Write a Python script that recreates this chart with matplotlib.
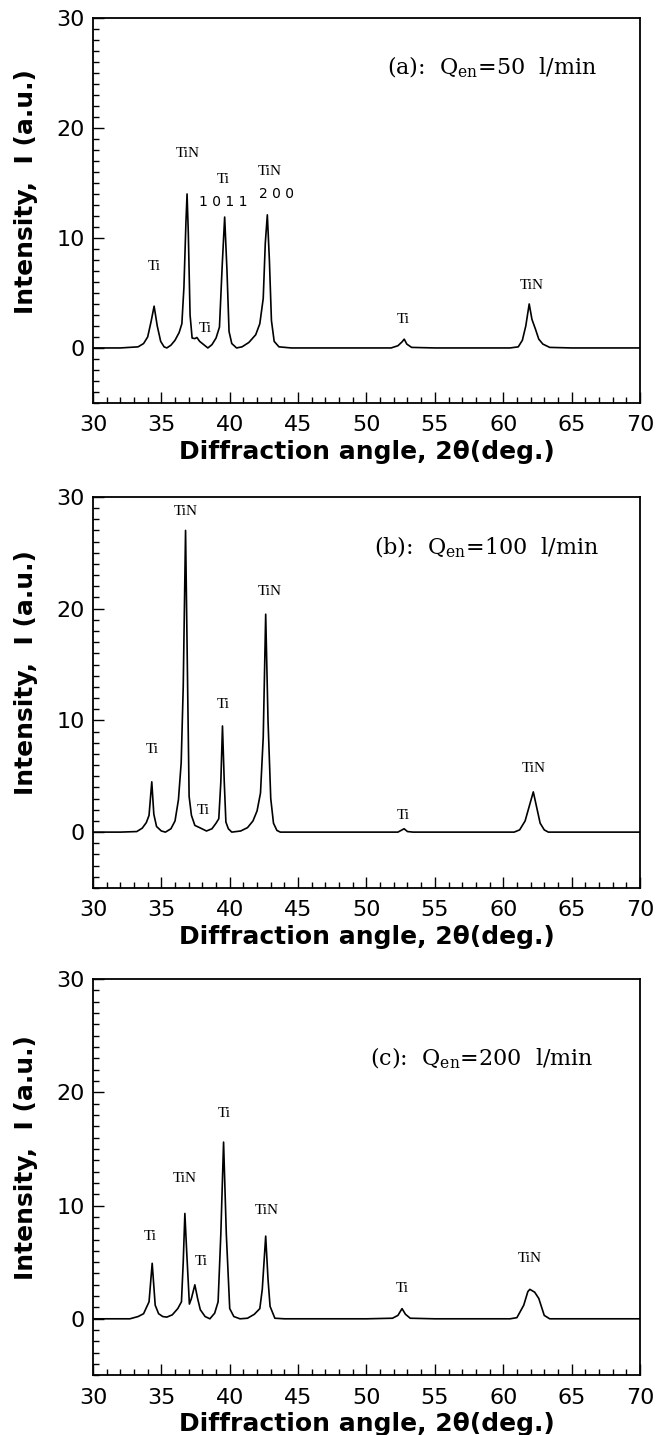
import matplotlib
matplotlib.use("Agg")
import matplotlib.pyplot as plt
from matplotlib.ticker import MultipleLocator

# ---------------- data ----------------
x_a = [30, 32, 33.3, 33.7, 34.0, 34.25, 34.47, 34.7, 34.95, 35.2, 35.4, 35.7, 36.0, 36.3, 36.5,
       36.65, 36.8, 36.88, 36.97, 37.1, 37.25, 37.45, 37.6, 37.8, 38.1, 38.4, 38.7, 39.0, 39.25,
       39.45, 39.63, 39.8, 39.95, 40.15, 40.5, 40.9, 41.4, 41.9, 42.2, 42.45, 42.6, 42.75, 42.9,
       43.05, 43.25, 43.6, 44.5, 46, 48, 50, 51.8, 52.3, 52.6, 52.76, 52.95, 53.3, 55, 58, 60.5,
       61.1, 61.4, 61.65, 61.9, 62.1, 62.36, 62.6, 62.9, 63.4, 65, 70]
y_a = [0, 0, 0.1, 0.4, 1.0, 2.4, 3.8, 2.0, 0.6, 0.1, 0.0, 0.25, 0.7, 1.4, 2.2,
       5.5, 11.5, 14.0, 10.5, 3.0, 0.9, 0.85, 0.95, 0.6, 0.3, 0.0, 0.3, 0.9, 1.9,
       7.5, 11.9, 7.0, 1.5, 0.4, 0.0, 0.1, 0.5, 1.2, 2.2, 4.5, 9.5, 12.1, 8.0,
       2.5, 0.6, 0.1, 0.0, 0, 0, 0, 0, 0.2, 0.55, 0.8, 0.35, 0.05, 0, 0, 0,
       0.1, 0.7, 2.0, 4.0, 2.6, 1.7, 0.8, 0.35, 0.05, 0, 0]

x_b = [30, 32, 33.2, 33.6, 33.9, 34.1, 34.3, 34.45, 34.65, 35.0, 35.3, 35.7, 36.0, 36.25, 36.45,
       36.6, 36.77, 36.9, 37.03, 37.2, 37.45, 37.8, 38.3, 38.7, 39.0, 39.2, 39.35, 39.47, 39.6,
       39.72, 39.9, 40.15, 40.8, 41.3, 41.7, 42.0, 42.25, 42.45, 42.63, 42.8, 43.0, 43.2, 43.45,
       43.7, 46, 50, 52.3, 52.6, 52.75, 53.0, 53.4, 58, 60.8, 61.2, 61.6, 61.9, 62.2, 62.45,
       62.7, 63.0, 63.3, 70]
y_b = [0, 0, 0.05, 0.35, 0.85, 1.5, 4.5, 1.6, 0.5, 0.1, 0.0, 0.3, 1.0, 2.9, 6.2,
       13.0, 27.0, 15.0, 3.2, 1.5, 0.6, 0.4, 0.1, 0.3, 0.8, 1.2, 4.5, 9.5, 4.5,
       0.9, 0.3, 0.0, 0.1, 0.4, 1.0, 1.9, 3.5, 8.5, 19.5, 10.0, 3.0, 0.8, 0.15,
       0, 0, 0, 0, 0.2, 0.3, 0.05, 0, 0, 0, 0.2, 1.0, 2.3, 3.6, 2.2,
       0.8, 0.2, 0, 0]

x_c = [30, 32.7, 33.3, 33.7, 34.1, 34.33, 34.55, 34.8, 35.1, 35.4, 35.8, 36.2, 36.47, 36.6,
       36.72, 36.85, 37.05, 37.2, 37.45, 37.65, 37.85, 38.2, 38.55, 38.9, 39.15, 39.35, 39.55,
       39.75, 40.0, 40.3, 40.75, 41.3, 41.8, 42.2, 42.38, 42.63, 42.8, 42.95, 43.3, 44, 50,
       51.9, 52.3, 52.6, 52.85, 53.2, 55, 60.5, 61.0, 61.5, 61.8, 61.95, 62.3, 62.6, 63.0,
       63.4, 70]
y_c = [0, 0, 0.2, 0.45, 1.5, 4.9, 1.2, 0.45, 0.2, 0.15, 0.35, 0.9, 1.5, 5.0,
       9.3, 6.0, 1.3, 1.8, 3.0, 1.8, 0.8, 0.2, 0.0, 0.5, 1.5, 7.5, 15.6,
       7.5, 0.9, 0.2, 0.0, 0.05, 0.4, 0.9, 2.6, 7.3, 3.5, 1.1, 0.05, 0, 0,
       0.05, 0.3, 0.9, 0.4, 0.05, 0, 0, 0.1, 1.2, 2.4, 2.6, 2.35, 1.8, 0.3,
       0, 0]

# peak labels: (text, x, y)
labels_a = [("Ti", 34.5, 7.4), ("TiN", 36.9, 17.7), ("Ti", 38.2, 1.8), ("Ti", 39.5, 15.3),
            ("TiN", 42.9, 16.0), ("Ti", 52.7, 2.6), ("TiN", 62.05, 5.7)]
index_a = [("1 0 1 1", 39.5, 13.3), ("2 0 0", 43.4, 14.0)]
labels_b = [("Ti", 34.3, 7.4), ("TiN", 36.8, 28.7), ("Ti", 38.1, 1.9), ("Ti", 39.5, 11.4),
            ("TiN", 42.9, 21.5), ("Ti", 52.7, 1.5), ("TiN", 62.2, 5.7)]
labels_c = [("Ti", 34.2, 7.3), ("TiN", 36.7, 12.4), ("Ti", 37.9, 5.1), ("Ti", 39.6, 18.1),
            ("TiN", 42.7, 9.6), ("Ti", 52.65, 2.7), ("TiN", 61.95, 5.3)]

conds = ["(a):  Q$_{\\mathregular{en}}$=50  l/min",
         "(b):  Q$_{\\mathregular{en}}$=100  l/min",
         "(c):  Q$_{\\mathregular{en}}$=200  l/min"]
cond_pos = [(59.2, 25.5), (58.8, 25.5), (58.4, 23.0)]

xticks = [30, 35, 40, 45, 50, 55, 60, 65, 70]
yticks = [0, 10, 20, 30]

# ---------------- figure ----------------
fig = plt.figure(figsize=(6.58, 14.35), dpi=100)
rects = [(0.1413, 0.7192, 0.8313, 0.2683),
         (0.1413, 0.3812, 0.8313, 0.2725),
         (0.1413, 0.0415, 0.8313, 0.2763)]
series = [(x_a, y_a, labels_a), (x_b, y_b, labels_b), (x_c, y_c, labels_c)]
serif = "Liberation Serif"

for i, (rect, (xs, ys, labs)) in enumerate(zip(rects, series)):
    ax = fig.add_axes(rect)
    ax.plot(xs, ys, color="black", lw=1.2)
    ax.set_xlim(30, 70)
    ax.set_ylim(-5, 30)
    ax.set_xticks(xticks)
    ax.set_yticks(yticks)
    ax.xaxis.set_minor_locator(MultipleLocator(1))
    ax.yaxis.set_minor_locator(MultipleLocator(1))
    ax.tick_params(which="both", direction="in", top=False, right=False, width=1.0)
    ax.tick_params(which="major", length=8, labelsize=16)
    ax.tick_params(axis="x", which="major", pad=9)
    ax.tick_params(axis="y", which="major", pad=6)
    ax.tick_params(which="minor", length=4.5)
    for s in ax.spines.values():
        s.set_linewidth(1.3)
    ax.set_xlabel("Diffraction angle, 2θ(deg.)", fontsize=18, fontweight="bold", labelpad=3)
    ax.set_ylabel("Intensity,  I (a.u.)", fontsize=18, fontweight="bold")
    ax.yaxis.set_label_coords(-0.10, 0.55)
    for t, lx, ly in labs:
        ax.text(lx, ly, t, ha="center", va="center", fontsize=11, family=serif)
    if i == 0:
        for t, lx, ly in index_a:
            ax.text(lx, ly, t, ha="center", va="center", fontsize=10, family="DejaVu Sans")
    cx, cy = cond_pos[i]
    ax.text(cx, cy, conds[i], ha="center", va="center", fontsize=16, family="DejaVu Serif")

fig.savefig("out.png", dpi=100)
